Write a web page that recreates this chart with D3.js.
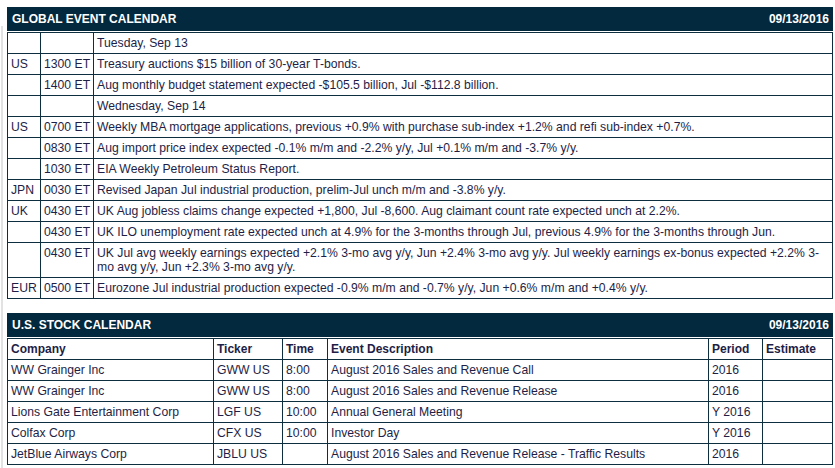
<!DOCTYPE html>
<html>
<head>
<meta charset="utf-8">
<script src="https://cdn.jsdelivr.net/npm/d3@7"></script>
<style>
body { margin: 0; background: #fff; font-family: Arial, "Liberation Sans", sans-serif; font-size: 12px; color: #1e1e46; }
.frame { position: absolute; left: 1px; top: 26px; width: 2px; height: 442px; background: #e2e2e2; }
.block { position: absolute; left: 7px; width: 826px; }
.bar { height: 24px; line-height: 25px; background: #03293e; color: #fff; font-weight: bold; padding: 0 5px; }
.bar .date { float: right; margin-right: -1px; }
table { border-collapse: collapse; width: 100%; table-layout: fixed; }
td { border: 1px solid #0c2e3e; padding: 3px 3px; font-size: 12.2px; line-height: 14px; vertical-align: top; white-space: nowrap; }
td.wrap { white-space: normal; }
tr.head td { font-weight: bold; font-size: 12px; }
</style>
</head>
<body>
<div class="frame"></div>
<div class="block" id="global" style="top:7px"></div>
<div class="block" id="stock" style="top:313px"></div>
<script>
// global event calendar
const evCountry = ['', 'US', '', '', 'US', '', '', 'JPN', 'UK', '', '', 'EUR'];
const evTime = ['', '1300 ET', '1400 ET', '', '0700 ET', '0830 ET', '1030 ET', '0030 ET', '0430 ET', '0430 ET', '0430 ET', '0500 ET'];
const evText = [
    'Tuesday, Sep 13',
    'Treasury auctions $15 billion of 30-year T-bonds.',
    'Aug monthly budget statement expected -$105.5 billion, Jul -$112.8 billion.',
    'Wednesday, Sep 14',
    'Weekly MBA mortgage applications, previous +0.9% with purchase sub-index +1.2% and refi sub-index +0.7%.',
    'Aug import price index expected -0.1% m/m and -2.2% y/y, Jul +0.1% m/m and -3.7% y/y.',
    'EIA Weekly Petroleum Status Report.',
    'Revised Japan Jul industrial production, prelim-Jul unch m/m and -3.8% y/y.',
    'UK Aug jobless claims change expected +1,800, Jul -8,600. Aug claimant count rate expected unch at 2.2%.',
    'UK ILO unemployment rate expected unch at 4.9% for the 3-months through Jul, previous 4.9% for the 3-months through Jun.',
    'UK Jul avg weekly earnings expected +2.1% 3-mo avg y/y, Jun +2.4% 3-mo avg y/y. Jul weekly earnings ex-bonus expected +2.2% 3-mo avg y/y, Jun +2.3% 3-mo avg y/y.',
    'Eurozone Jul industrial production expected -0.9% m/m and -0.7% y/y, Jun +0.6% m/m and +0.4% y/y.'
];

// u.s. stock calendar
const stockCols = ['Company', 'Ticker', 'Time', 'Event Description', 'Period', 'Estimate'];
const companies = ['WW Grainger Inc', 'WW Grainger Inc', 'Lions Gate Entertainment Corp', 'Colfax Corp', 'JetBlue Airways Corp'];
const tickers = ['GWW US', 'GWW US', 'LGF US', 'CFX US', 'JBLU US'];
const times = ['8:00', '8:00', '10:00', '10:00', ''];
const events = [
    'August 2016 Sales and Revenue Call',
    'August 2016 Sales and Revenue Release',
    'Annual General Meeting',
    'Investor Day',
    'August 2016 Sales and Revenue Release - Traffic Results'
];
const periods = ['2016', '2016', 'Y 2016', 'Y 2016', '2016'];
const estimates = ['', '', '', '', ''];

const reportDate = '09/13/2016';

function makeBlock(id, title, widths, rows, wrapCol) {
    const block = d3.select('#' + id);

    const bar = block.append('div').attr('class', 'bar');
    bar.append('span').attr('class', 'date').text(reportDate);
    bar.append('span').text(title);

    const table = block.append('table');
    table.append('colgroup')
    .selectAll('col')
    .data(widths)
    .enter()
    .append('col')
    .style('width', d => d ? d + 'px' : null);

    const tr = table
    .selectAll('tr')
    .data(rows)
    .enter()
    .append('tr')
    .attr('class', d => d.head ? 'head' : null);

    tr.selectAll('td')
    .data(d => d.cells)
    .enter()
    .append('td')
    .attr('class', (d, i) => i === wrapCol ? 'wrap' : null)
    .text(d => d);
}

const globalRows = evText.map((t, i) => ({ cells: [evCountry[i], evTime[i], t] }));
makeBlock('global', 'GLOBAL EVENT CALENDAR', [33, 53, null], globalRows, 2);

const stockRows = [{ head: true, cells: stockCols }]
.concat(companies.map((c, i) => ({ cells: [c, tickers[i], times[i], events[i], periods[i], estimates[i]] })));
makeBlock('stock', 'U.S. STOCK CALENDAR', [206, 69, 45, 381, 54, null], stockRows, -1);
</script>
</body>
</html>
